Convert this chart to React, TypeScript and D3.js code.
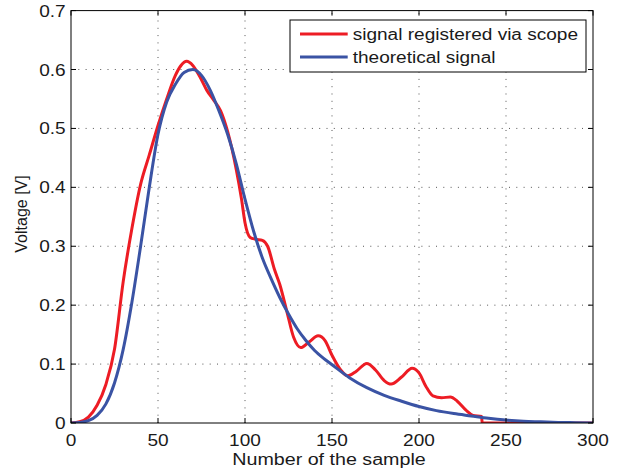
import React from "react";
import * as d3 from "d3";

const xTicks = [0, 50, 100, 150, 200, 250, 300];
const yTicks = [0, 0.1, 0.2, 0.3, 0.4, 0.5, 0.6, 0.7];
const yTickLabels = ["0", "0.1", "0.2", "0.3", "0.4", "0.5", "0.6", "0.7"];

const seriesNames = ["signal registered via scope", "theoretical signal"];
const seriesColors = ["#ED1C24", "#3A53A4"];

const scopeX = [0, 5, 10, 15, 20, 25, 30, 35, 40, 45, 50, 55, 60, 63, 66.5, 70, 74, 78, 82, 86, 90, 95, 98, 100, 103, 106, 110, 113, 117, 120, 124, 128, 132, 137, 142, 146, 150, 155, 159, 164, 170, 175, 180, 184, 190, 196, 200, 204, 208, 213, 218, 222, 227, 231, 236, 236.3, 250, 300];
const scopeY = [0, 0.002, 0.01, 0.03, 0.065, 0.125, 0.24, 0.33, 0.405, 0.455, 0.505, 0.55, 0.59, 0.606, 0.614, 0.607, 0.588, 0.565, 0.548, 0.53, 0.495, 0.43, 0.38, 0.34, 0.315, 0.312, 0.31, 0.3, 0.26, 0.235, 0.19, 0.145, 0.128, 0.138, 0.148, 0.14, 0.115, 0.09, 0.08, 0.088, 0.101, 0.09, 0.072, 0.066, 0.078, 0.093, 0.085, 0.062, 0.046, 0.043, 0.044, 0.037, 0.022, 0.013, 0.011, 0, 0, 0];

const theoX = [0, 5, 10, 15, 20, 25, 30, 35, 40, 45, 50, 55, 60, 65, 70, 75, 80, 85, 90, 95, 100, 105, 110, 115, 120, 125, 130, 135, 140, 145, 150, 160, 170, 180, 190, 200, 210, 220, 230, 240, 250, 260, 270, 280, 290, 300];
const theoY = [0, 0.001, 0.004, 0.013, 0.032, 0.068, 0.125, 0.205, 0.3, 0.4, 0.49, 0.545, 0.575, 0.595, 0.6, 0.59, 0.565, 0.53, 0.49, 0.44, 0.38, 0.325, 0.28, 0.245, 0.213, 0.185, 0.16, 0.14, 0.123, 0.11, 0.099, 0.077, 0.06, 0.047, 0.037, 0.028, 0.021, 0.016, 0.012, 0.008, 0.005, 0.003, 0.002, 0.001, 0.0005, 0];

const W = 621;
const H = 472;
const L = 71, R = 593, T = 10.6, B = 423;
const FONT = "'Liberation Sans', Arial, Helvetica, sans-serif";
const SX = 1.19;

export default function App() {
  const x = d3.scaleLinear().domain([0, 300]).range([L, R]);
  const y = d3.scaleLinear().domain([0, 0.7]).range([B, T]);
  const line = d3
    .line<[number, number]>()
    .x((d) => x(d[0]))
    .y((d) => y(d[1]))
    .curve(d3.curveMonotoneX);

  const scopeData: [number, number][] = scopeX.map((v, i) => [v, scopeY[i]]);
  const theoData: [number, number][] = theoX.map((v, i) => [v, theoY[i]]);
  const tickLen = 5;
  const legendX = 290, legendY = 20, legendW = 296, legendH = 52;

  return (
    <svg width={W} height={H} style={{ position: "absolute", left: 0, top: 0, background: "#fff" }} fontFamily={FONT}>
      <defs>
        <clipPath id="plotclip">
          <rect x={L} y={T - 2} width={R - L} height={B - T + 2} />
        </clipPath>
      </defs>
      <rect x={0} y={0} width={W} height={H} fill="#fff" />
      {/* grid */}
      <g stroke="#555" strokeWidth={1} strokeDasharray="1,6.3">
        {xTicks.slice(1, -1).map((t) => (
          <line key={"gx" + t} x1={x(t)} x2={x(t)} y1={B} y2={T} />
        ))}
        {yTicks.slice(1, -1).map((t) => (
          <line key={"gy" + t} x1={L} x2={R} y1={y(t)} y2={y(t)} />
        ))}
      </g>
      {/* curves */}
      <g clipPath="url(#plotclip)" fill="none" strokeWidth={3} strokeLinejoin="round" strokeLinecap="butt">
        <path d={line(scopeData) || ""} stroke={seriesColors[0]} />
        <path d={line(theoData) || ""} stroke={seriesColors[1]} />
      </g>
      {/* box */}
      <rect x={L} y={T} width={R - L} height={B - T} fill="none" stroke="#000" strokeWidth={1} />
      {/* ticks */}
      <g stroke="#000" strokeWidth={1}>
        {xTicks.map((t) => (
          <g key={"tx" + t}>
            <line x1={x(t)} x2={x(t)} y1={B} y2={B - tickLen} />
            <line x1={x(t)} x2={x(t)} y1={T} y2={T + tickLen} />
          </g>
        ))}
        {yTicks.map((t) => (
          <g key={"ty" + t}>
            <line x1={L} x2={L + tickLen} y1={y(t)} y2={y(t)} />
            <line x1={R} x2={R - tickLen} y1={y(t)} y2={y(t)} />
          </g>
        ))}
      </g>
      {/* tick labels */}
      <g fill="#1a1a1a" fontSize={16}>
        {xTicks.map((t) => (
          <text key={"lx" + t} transform={`translate(${x(t)},446) scale(${SX},1)`} textAnchor="middle">
            {String(t)}
          </text>
        ))}
        {yTicks.map((t, i) => (
          <text key={"ly" + t} transform={`translate(65.7,${y(t) + 6}) scale(${SX},1)`} textAnchor="end">
            {yTickLabels[i]}
          </text>
        ))}
      </g>
      {/* axis labels */}
      <text transform={`translate(329,465) scale(1.23,1)`} textAnchor="middle" fontSize={16} fill="#1a1a1a">
        Number of the sample
      </text>
      <text transform={`translate(26.8,214) rotate(-90)`} textAnchor="middle" fontSize={16} fill="#1a1a1a">
        Voltage [V]
      </text>
      {/* legend */}
      <rect x={legendX} y={legendY} width={legendW} height={legendH} fill="#fff" stroke="#000" strokeWidth={1} />
      {seriesNames.map((name, i) => {
        const ly = 34 + i * 23;
        return (
          <g key={name}>
            <line x1={300} x2={347.7} y1={ly} y2={ly} stroke={seriesColors[i]} strokeWidth={3} />
            <text transform={`translate(352.7,${ly + 5.5}) scale(${SX},1)`} fontSize={16} fill="#1a1a1a">
              {name}
            </text>
          </g>
        );
      })}
    </svg>
  );
}
